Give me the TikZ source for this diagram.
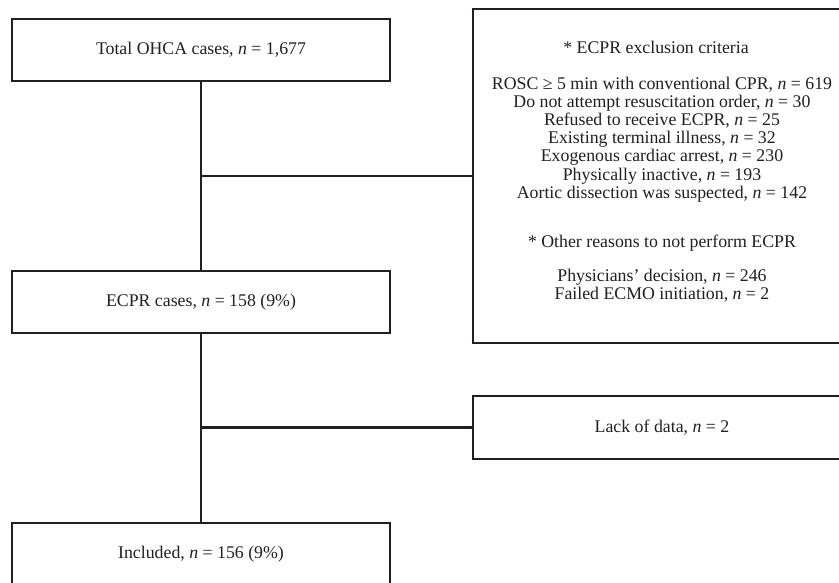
\documentclass[tikz,border=0pt]{standalone}
\usepackage{fontspec}
\setmainfont{Liberation Serif}
\definecolor{lc}{HTML}{231F20}
\definecolor{tc}{HTML}{231F20}
\newcommand{\fs}{\fontsize{17.8}{18.2}\selectfont}
\begin{document}
\begin{tikzpicture}[x=1pt,y=-1pt,
  box/.style={draw=lc, line width=2.2pt, minimum width=378pt, minimum height=62pt, inner sep=0pt, font=\fs, text=tc},
  conn/.style={draw=lc, line width=2.2pt},
  txt/.style={font=\fs, text=tc, inner sep=0pt, anchor=base}]
\useasboundingbox (0,0) rectangle (839,582);
\clip (0,0) rectangle (839,582);
\fill[white] (0,0) rectangle (839,582);
\node[box] (total) at (201,50) {Total OHCA cases, \textit{n} = 1,677};
\node[box] (ecpr) at (201,302) {ECPR cases, \textit{n} = 158 (9\%)};
\node[box] (incl) at (201,554) {Included, \textit{n} = 156 (9\%)};
\node[box, minimum height=334pt] (excl) at (662,176) {};
\node[box, minimum height=63pt] (lack) at (662,427.5) {Lack of data, \textit{n} = 2};
\draw[conn] (total) -- (ecpr);
\draw[conn] (ecpr) -- (incl);
\coordinate (b1) at (total.south |- excl.west);
\coordinate (b2) at (ecpr.south |- lack.west);
\draw[conn] (b1) -- (excl.west);
\draw[conn] (b2) -- (lack.west);
\node[txt] (t0) at (656,53) {* ECPR exclusion criteria};
\node[txt] (t1) at (662,89) {ROSC ≥ 5 min with conventional CPR, \textit{n} = 619};
\node[txt] (t2) at (662,107.2) {Do not attempt resuscitation order, \textit{n} = 30};
\node[txt] (t3) at (662,125.4) {Refused to receive ECPR, \textit{n} = 25};
\node[txt] (t4) at (662,143.6) {Existing terminal illness, \textit{n} = 32};
\node[txt] (t5) at (662,161.8) {Exogenous cardiac arrest, \textit{n} = 230};
\node[txt] (t6) at (662,180) {Physically inactive, \textit{n} = 193};
\node[txt] (t7) at (662,198.2) {Aortic dissection was suspected, \textit{n} = 142};
\node[txt] (t8) at (662,247) {* Other reasons to not perform ECPR};
\node[txt] (t9) at (662,281) {Physicians’ decision, \textit{n} = 246};
\node[txt] (t10) at (662,299.5) {Failed ECMO initiation, \textit{n} = 2};
\end{tikzpicture}
\end{document}
